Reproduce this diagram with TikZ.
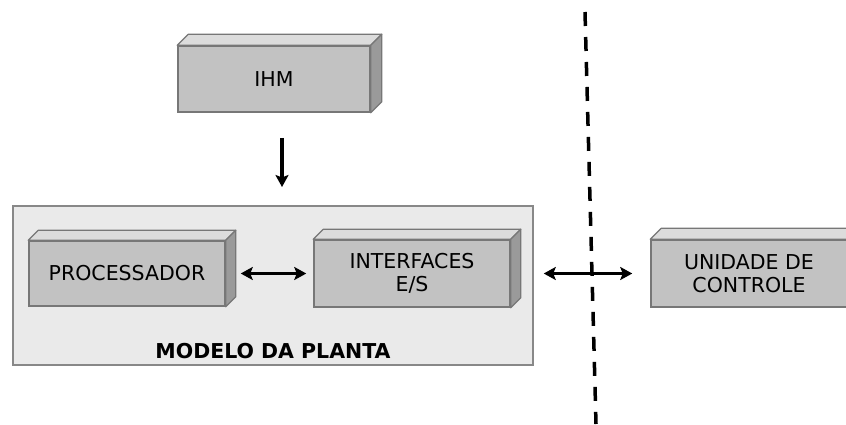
\documentclass[tikz,border=0pt]{standalone}
\usepackage{fontspec}
\setmainfont{DejaVu Sans}
\usetikzlibrary{arrows.meta}
\definecolor{frontc}{HTML}{C2C2C2}
\definecolor{topc}{HTML}{DCDCDC}
\definecolor{sidec}{HTML}{9A9A9A}
\definecolor{edgec}{HTML}{777777}
\definecolor{outerc}{HTML}{EAEAEA}
\definecolor{outerb}{HTML}{888888}
\tikzset{
  front/.style={draw=edgec, line width=1.5pt, fill=frontc, inner sep=0pt,
    minimum width=192pt, minimum height=66pt, align=center,
    font=\fontsize{20.5}{23}\selectfont},
  tip/.tip={Stealth[length=12pt 0 0,width=13pt 0 0,inset=2.5pt]},
  arr/.style={line width=3.3pt, tip-tip},
  darr/.style={line width=3.3pt, -tip},
}
\begin{document}
\begin{tikzpicture}[x=1pt,y=-1pt]
\useasboundingbox (0,0) rectangle (846,424);
\clip (0,0) rectangle (846,424);
\fill[white] (0,0) rectangle (846,424);
% outer box
\node[draw=outerb, line width=2pt, fill=outerc, minimum width=520pt, minimum height=159pt, inner sep=0pt] (modelo) at (273,285.5) {};
\node[font=\bfseries\fontsize{20.5}{23}\selectfont] (mtxt) at (273,351) {MODELO DA PLANTA};
% boxes
\node[front] (ihm) at (274,79) {IHM};
\node[front, minimum width=196pt, minimum height=65pt] (proc) at (127,273.5) {PROCESSADOR};
\node[front, minimum width=196pt, minimum height=67pt] (intf) at (412,273.5) {INTERFACES\\E/S};
\node[front, minimum width=196pt, minimum height=67pt] (uc) at (749,273.5) {UNIDADE DE\\CONTROLE};
\foreach \n/\d in {ihm/11,proc/10,intf/10,uc/11}{
  \filldraw[draw=edgec, line width=1.2pt, fill=topc, line join=round]
    (\n.north west) -- ++(\d,-\d) -- ([shift={(\d,-\d)}]\n.north east) -- (\n.north east) -- cycle;
  \filldraw[draw=edgec, line width=1.2pt, fill=sidec, line join=round]
    (\n.north east) -- ++(\d,-\d) -- ([shift={(\d,-\d)}]\n.south east) -- (\n.south east) -- cycle;
}
% dashed boundary
\coordinate (d1) at (585,12);
\coordinate (d2) at (596,424);
\draw[line width=3.5pt, dash pattern=on 14pt off 11pt] (d1) -- (d2);
% arrows
\coordinate (ax) at (282,0);
\draw[darr, shorten <=25pt, shorten >=18pt] (ihm.south -| ax) -- (modelo.north -| ax);
\draw[arr, shorten <=15pt, shorten >=7pt] (proc.east) -- (intf.west);
\draw[arr, shorten <=33pt, shorten >=18pt] (intf.east) -- (uc.west);
\end{tikzpicture}
\end{document}
